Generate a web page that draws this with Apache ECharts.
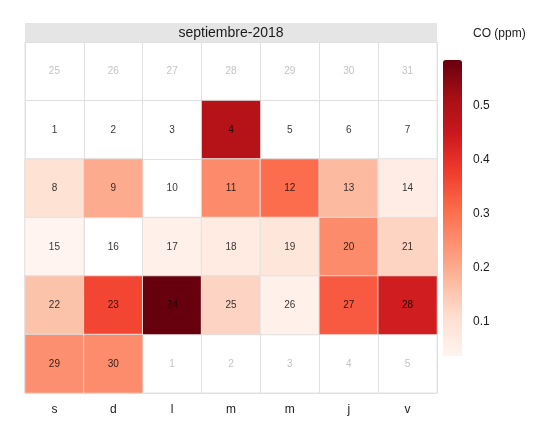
<!DOCTYPE html>
<html>
<head>
<meta charset="utf-8">
<script src="https://cdn.jsdelivr.net/npm/echarts@6/dist/echarts.min.js"></script>
<style>
html,body{margin:0;padding:0;background:#fff;}
#chart{width:551px;height:444px;}
</style>
</head>
<body>
<div id="chart"></div>
<script>
// ---- data ----
const monthTitle = 'septiembre-2018';
const legendTitle = 'CO (ppm)';
const weekdayLabels = ['s', 'd', 'l', 'm', 'm', 'j', 'v'];
const prevMonthDays = [25, 26, 27, 28, 29, 30, 31];
const nextMonthDays = [1, 2, 3, 4, 5];
// CO (ppm) for 1..30 September 2018 (null = no data)
const coValues = [
  null, null, null, 0.488, null, null, null,
  0.100, 0.200, null, 0.255, 0.306, 0.175, 0.063,
  0.040, null, 0.053, 0.070, 0.086, 0.255, 0.128,
  0.160, 0.364, 0.585, 0.127, 0.050, 0.334, 0.439,
  0.247, 0.252
];
const legendTicks = [0.1, 0.2, 0.3, 0.4, 0.5];
const scaleMin = 0.037;
const scaleMax = 0.585;
const redsPalette = ['#fff5f0', '#fee0d2', '#fcbba1', '#fc9272', '#fb6a4a', '#ef3b2c', '#cb181d', '#a50f15', '#67000d'];

// ---- build cells ----
const cells = [];
prevMonthDays.forEach(d => cells.push({ day: d, inMonth: false, value: null }));
coValues.forEach((v, i) => cells.push({ day: i + 1, inMonth: true, value: v }));
nextMonthDays.forEach(d => cells.push({ day: d, inMonth: false, value: null }));

const heatData = [];
const labelData = [];
cells.forEach((c, i) => {
  const x = i % 7, y = Math.floor(i / 7);
  if (c.inMonth && c.value != null) heatData.push([x, y, c.value]);
  labelData.push({
    value: [x, y, c.day],
    label: { color: c.inMonth ? '#000000' : '#b3b3b3' }
  });
});

const gridLine = '#e0e0e0';
const chart = echarts.init(document.getElementById('chart'));
chart.setOption({
  animation: false,
  backgroundColor: '#ffffff',
  textStyle: { fontFamily: 'Liberation Sans, Arial, sans-serif' },
  title: {
    text: legendTitle,
    left: 473, top: 28, padding: 0,
    textStyle: { fontSize: 12, fontWeight: 'normal', color: '#1a1a1a' }
  },
  graphic: [
    {
      type: 'rect', left: 25, top: 23, z: 10,
      shape: { width: 412, height: 19 },
      style: { fill: '#e5e5e5' }
    },
    {
      type: 'text', x: 231, y: 33, z: 11,
      style: {
        text: monthTitle, fontSize: 14, fill: '#1a1a1a',
        align: 'center', verticalAlign: 'middle',
        fontFamily: 'Liberation Sans, Arial, sans-serif'
      }
    }
  ],
  grid: [
    { left: 25, top: 42, width: 412, height: 351, show: true, borderColor: gridLine, borderWidth: 1, backgroundColor: '#ffffff' },
    { left: 443, top: 60, width: 19, height: 296, show: false }
  ],
  xAxis: [
    {
      type: 'category', gridIndex: 0,
      data: weekdayLabels.map((_, i) => i),
      axisLine: { show: false }, axisTick: { show: false },
      axisLabel: { formatter: v => weekdayLabels[+v], fontSize: 12, color: '#1a1a1a', margin: 11 },
      splitLine: { show: true, interval: 0, lineStyle: { color: gridLine, width: 1 } }
    },
    {
      type: 'category', gridIndex: 1, data: ['bar'], show: false
    }
  ],
  yAxis: [
    {
      type: 'category', gridIndex: 0, inverse: true,
      data: [0, 1, 2, 3, 4, 5],
      axisLine: { show: false }, axisTick: { show: false }, axisLabel: { show: false },
      splitLine: { show: true, interval: 0, lineStyle: { color: gridLine, width: 1 } }
    },
    {
      type: 'value', gridIndex: 1, position: 'right',
      min: scaleMin, max: scaleMax,
      axisLine: { show: false }, axisTick: { show: false },
      splitLine: { show: false },
      axisLabel: {
        customValues: legendTicks,
        formatter: v => (+v).toFixed(1),
        fontSize: 12, color: '#1a1a1a', margin: 11
      }
    }
  ],
  visualMap: {
    type: 'continuous',
    min: scaleMin, max: scaleMax,
    seriesIndex: 0, dimension: 2,
    orient: 'vertical',
    left: 443, top: 60, padding: 0,
    itemWidth: 19, itemHeight: 296,
    calculable: false, hoverLink: false,
    text: null, showLabel: false,
    inRange: { color: redsPalette }
  },
  series: [
    {
      type: 'heatmap',
      xAxisIndex: 0, yAxisIndex: 0,
      data: heatData,
      itemStyle: { borderColor: gridLine, borderWidth: 1 },
      label: { show: false },
      emphasis: { disabled: true }
    },
    {
      type: 'scatter',
      xAxisIndex: 0, yAxisIndex: 0,
      data: labelData,
      symbolSize: 1,
      itemStyle: { color: 'rgba(0,0,0,0)' },
      z: 5,
      label: {
        show: true, position: 'inside',
        formatter: p => String(p.value[2]),
        fontSize: 10
      },
      emphasis: { disabled: true }
    }
  ]
});
</script>
</body>
</html>
